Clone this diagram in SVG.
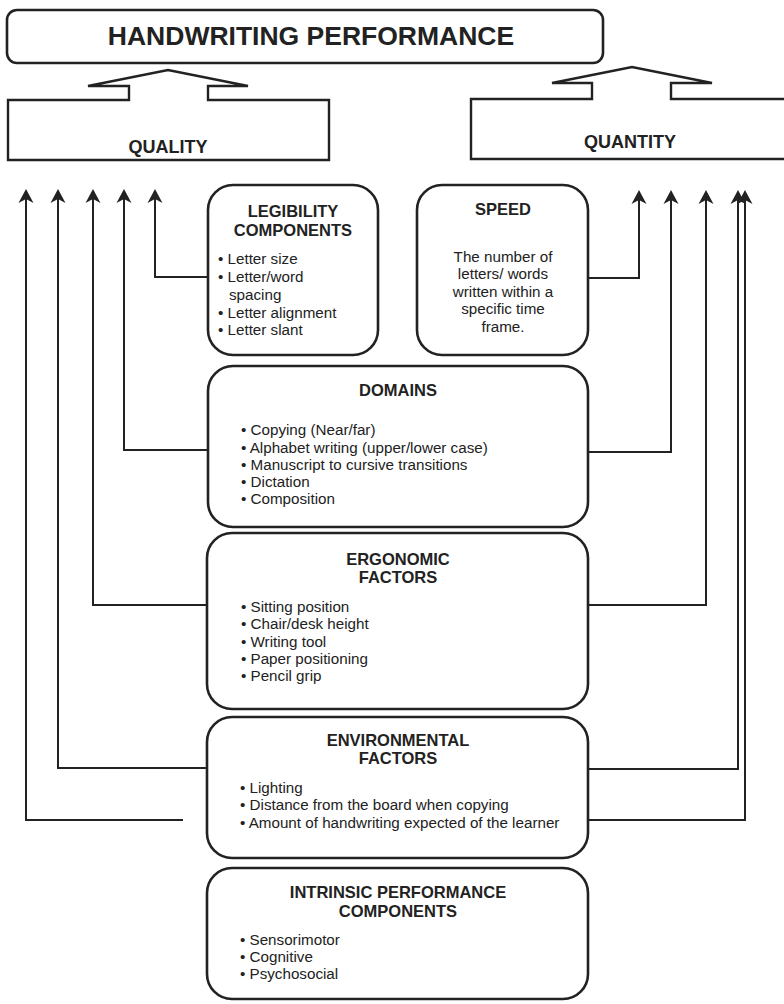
<svg xmlns="http://www.w3.org/2000/svg" width="784" height="1004" viewBox="0 0 784 1004">
<style>
text{font-family:"Liberation Sans",Arial,Helvetica,sans-serif;fill:#222}
.t{font-weight:bold;font-size:16.5px;text-anchor:middle}
.b{font-size:15.2px}
.c{font-size:15.2px;text-anchor:middle}
.box{fill:#fff;stroke:#222;stroke-width:2.6}
.big{fill:#fff;stroke:#222;stroke-width:2.4;stroke-linejoin:miter}
.con{fill:none;stroke:#222;stroke-width:2;marker-end:url(#ah)}
</style>
<defs>
<marker id="ah" markerUnits="userSpaceOnUse" orient="auto" refX="0" refY="0" markerWidth="20" markerHeight="20" viewBox="-10 -10 20 20" overflow="visible">
<path d="M10,0 L-4,-7.5 L0,0 L-4,7.5 Z" fill="#222"/>
</marker>
</defs>
<rect width="784" height="1004" fill="#fff"/>

<g id="handwriting-performance">
<rect class="box" x="7" y="10" width="596" height="53" rx="10"/>
<text x="311" y="45" style="font-weight:bold;font-size:26.5px;text-anchor:middle">HANDWRITING PERFORMANCE</text>
</g>

<g id="quality">
<path class="big" d="M8,100 L129,100 L129,86 L88,86 L168,70 L248,86 L208,86 L208,100 L329,100 L329,160 L8,160 Z"/>
<text x="168" y="153" style="font-weight:bold;font-size:18px;text-anchor:middle">QUALITY</text>
</g>

<g id="quantity">
<path class="big" d="M471,99 L592,99 L592,83 L552,83 L632,67 L712,83 L671,83 L671,99 L790,99 L790,159 L471,159 Z"/>
<text x="630" y="148" style="font-weight:bold;font-size:18px;text-anchor:middle">QUANTITY</text>
</g>

<g id="connectors">
<path class="con" d="M208,277 H155 V199"/>
<path class="con" d="M208,450 H124 V199"/>
<path class="con" d="M207,605 H93 V199"/>
<path class="con" d="M207,768 H58 V199"/>
<path class="con" d="M183,820 H26 V199"/>
<path class="con" d="M588,278 H639 V200"/>
<path class="con" d="M588,452 H671 V200"/>
<path class="con" d="M588,605 H706 V200"/>
<path class="con" d="M588,769 H738 V200"/>
<path class="con" d="M588,820 H745 V200"/>
</g>

<g id="legibility-components">
<rect class="box" x="208" y="185" width="170" height="170" rx="25"/>
<text class="t" x="293" y="217">LEGIBILITY</text>
<text class="t" x="293" y="236">COMPONENTS</text>
<text class="b" x="218" y="264">• Letter size</text>
<text class="b" x="218" y="282">• Letter/word</text>
<text class="b" x="229" y="300">spacing</text>
<text class="b" x="218" y="318">• Letter alignment</text>
<text class="b" x="218" y="335">• Letter slant</text>
</g>

<g id="speed">
<rect class="box" x="417" y="185" width="171" height="170" rx="25"/>
<text class="t" x="503" y="215">SPEED</text>
<text class="c" x="503" y="262">The number of</text>
<text class="c" x="503" y="279">letters/ words</text>
<text class="c" x="503" y="297">written within a</text>
<text class="c" x="503" y="314">specific time</text>
<text class="c" x="503" y="332">frame.</text>
</g>

<g id="domains">
<rect class="box" x="208" y="366" width="380" height="161" rx="25"/>
<text class="t" x="398" y="396">DOMAINS</text>
<text class="b" x="241" y="435">• Copying (Near/far)</text>
<text class="b" x="241" y="453">• Alphabet writing (upper/lower case)</text>
<text class="b" x="241" y="470">• Manuscript to cursive transitions</text>
<text class="b" x="241" y="487">• Dictation</text>
<text class="b" x="241" y="504">• Composition</text>
</g>

<g id="ergonomic-factors">
<rect class="box" x="207" y="533" width="381" height="176" rx="25"/>
<text class="t" x="398" y="565">ERGONOMIC</text>
<text class="t" x="398" y="583">FACTORS</text>
<text class="b" x="241" y="612">• Sitting position</text>
<text class="b" x="241" y="629">• Chair/desk height</text>
<text class="b" x="241" y="647">• Writing tool</text>
<text class="b" x="241" y="664">• Paper positioning</text>
<text class="b" x="241" y="681">• Pencil grip</text>
</g>

<g id="environmental-factors">
<rect class="box" x="207" y="717" width="381" height="141" rx="25"/>
<text class="t" x="398" y="746">ENVIRONMENTAL</text>
<text class="t" x="398" y="764">FACTORS</text>
<text class="b" x="240" y="793">• Lighting</text>
<text class="b" x="240" y="810">• Distance from the board when copying</text>
<text class="b" x="240" y="828">• Amount of handwriting expected of the learner</text>
</g>

<g id="intrinsic-performance-components">
<rect class="box" x="207" y="868" width="381" height="131" rx="25"/>
<text class="t" x="398" y="898">INTRINSIC PERFORMANCE</text>
<text class="t" x="398" y="917">COMPONENTS</text>
<text class="b" x="240" y="945">• Sensorimotor</text>
<text class="b" x="240" y="962">• Cognitive</text>
<text class="b" x="240" y="979">• Psychosocial</text>
</g>
</svg>
